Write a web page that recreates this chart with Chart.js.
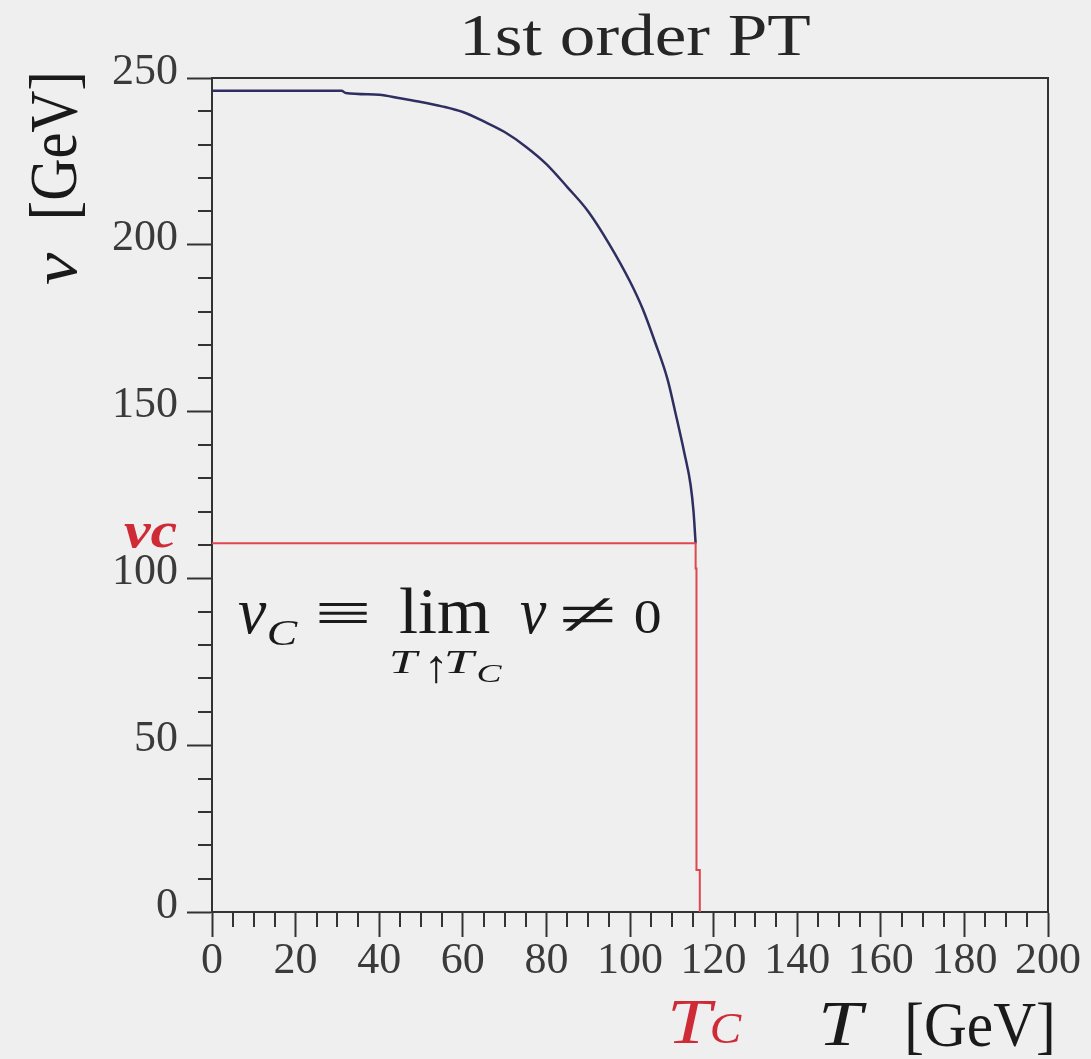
<!DOCTYPE html>
<html>
<head>
<meta charset="utf-8">
<script src="https://cdn.jsdelivr.net/npm/chart.js@4/dist/chart.umd.min.js"></script>
<style>
html,body{margin:0;padding:0;background:#efefef;}
#wrap{width:1091px;height:1059px;position:relative;}
</style>
</head>
<body>
<div id="wrap"><canvas id="c"></canvas></div>
<script>
// ---- data ----
const curveT = [0, 10, 20, 31, 32, 40, 45, 50, 55, 60, 65, 70, 75, 80, 85, 90, 95, 100, 103, 106, 109, 111, 113, 114.5, 115.2, 115.7];
const curveV = [246.2, 246.2, 246.2, 246.2, 245.5, 245.0, 243.9, 242.8, 241.5, 239.8, 237.0, 233.8, 229.5, 224.2, 217.3, 210.0, 200.3, 189.0, 180.9, 170.8, 159.6, 148.9, 137.6, 128.0, 120.0, 110.5];
const critT = [0, 115.7, 115.7, 115.9, 115.9, 116.7, 116.7];
const critV = [110.5, 110.5, 103, 103, 12.6, 12.6, 0];
const xMajorTicks = [0, 20, 40, 60, 80, 100, 120, 140, 160, 180, 200];
const yMajorTicks = [0, 50, 100, 150, 200, 250];
const xMinorStep = 5;
const yMinorStep = 10;
const chartTitle = '1st order PT';

const SERIF = "'Liberation Serif', 'DejaVu Serif', serif";
const AXIS = '#333333';
const RED_TXT = '#cf2b37';

function fitText(ctx, str, x0, x1, base, font, color) {
  ctx.save();
  ctx.font = font;
  ctx.fillStyle = color;
  ctx.textAlign = 'left';
  ctx.textBaseline = 'alphabetic';
  const m = ctx.measureText(str);
  const w = m.actualBoundingBoxRight + m.actualBoundingBoxLeft;
  const sx = (x1 - x0) / w;
  ctx.translate(x0 + m.actualBoundingBoxLeft * sx, base);
  ctx.scale(sx, 1);
  ctx.fillText(str, 0, 0);
  ctx.restore();
}

const decor = {
  id: 'decor',
  afterDraw(chart) {
    const ctx = chart.ctx;
    const {left, right, top, bottom} = chart.chartArea;
    const xs = chart.scales.x, ys = chart.scales.y;
    ctx.save();
    // frame (top and right)
    ctx.strokeStyle = AXIS;
    ctx.lineWidth = 2;
    ctx.beginPath();
    ctx.moveTo(left, top); ctx.lineTo(right, top); ctx.lineTo(right, bottom);
    ctx.stroke();
    // minor ticks
    xs.ticks.forEach(t => {
      if (xMajorTicks.includes(t.value)) return;
      const px = Math.round(xs.getPixelForValue(t.value));
      ctx.beginPath(); ctx.moveTo(px, bottom); ctx.lineTo(px, bottom + 15); ctx.stroke();
    });
    ys.ticks.forEach(t => {
      if (yMajorTicks.includes(t.value)) return;
      const py = Math.round(ys.getPixelForValue(t.value));
      ctx.beginPath(); ctx.moveTo(left - 14, py); ctx.lineTo(left, py); ctx.stroke();
    });
    ctx.restore();

    // title
    fitText(ctx, chartTitle, 465, 810, 55, `60px ${SERIF}`, '#262626');

    // y axis title (rotated)
    ctx.save();
    ctx.translate(76, 285);
    ctx.rotate(-Math.PI / 2);
    fitText(ctx, 'v', 0, 33, 0, `italic 64px ${SERIF}`, '#1a1a1a');
    fitText(ctx, '[GeV]', 69, 210, 0, `68px ${SERIF}`, '#1a1a1a');
    ctx.restore();

    // x axis title
    fitText(ctx, 'T', 823, 867, 1045, `italic 63px ${SERIF}`, '#1a1a1a');
    fitText(ctx, '[GeV]', 908, 1052, 1046, `63px ${SERIF}`, '#1a1a1a');
    // Tc (red)
    fitText(ctx, 'T', 672, 716, 1043, `italic 63px ${SERIF}`, RED_TXT);
    fitText(ctx, 'C', 712, 742, 1043, `italic 44px ${SERIF}`, RED_TXT);
    // vc (red)
    fitText(ctx, 'vc', 124, 177, 547, `bold italic 50px ${SERIF}`, RED_TXT);

    // formula  v_C ≡ lim v ≠ 0
    const F = '#1a1a1a';
    fitText(ctx, 'v', 238, 267, 633, `italic 66px ${SERIF}`, F);
    fitText(ctx, 'C', 268, 298, 645, `italic 35px ${SERIF}`, F);
    fitText(ctx, '\u2261', 318, 367, 633, `60px ${SERIF}`, F);
    fitText(ctx, 'lim', 400, 490, 633, `66px ${SERIF}`, F);
    fitText(ctx, 'T', 392, 420, 673, `italic 34px ${SERIF}`, F);
    fitText(ctx, '\u2191', 430, 443, 682, `46px ${SERIF}`, F);
    fitText(ctx, 'T', 447, 477, 673, `italic 34px ${SERIF}`, F);
    fitText(ctx, 'C', 478, 502, 682, `italic 25px ${SERIF}`, F);
    fitText(ctx, 'v', 520, 547, 633, `italic 66px ${SERIF}`, F);
    fitText(ctx, '\u2260', 562, 613, 635, `62px ${SERIF}`, F);
    fitText(ctx, '0', 635, 660, 633, `49px ${SERIF}`, F);
  }
};

const toPts = (xs, ys) => xs.map((x, i) => ({x, y: ys[i]}));

new Chart(document.getElementById('c'), {
  type: 'scatter',
  data: {
    datasets: [
      {
        label: 'critical',
        data: toPts(critT, critV),
        showLine: true,
        borderColor: '#e0464e',
        borderWidth: 2,
        pointRadius: 0,
        tension: 0
      },
      {
        label: 'v(T)',
        data: toPts(curveT, curveV),
        showLine: true,
        borderColor: '#2e2e60',
        borderWidth: 2.5,
        pointRadius: 0,
        cubicInterpolationMode: 'monotone'
      }
    ]
  },
  options: {
    responsive: true,
    maintainAspectRatio: false,
    animation: false,
    layout: {padding: {left: 0, top: 78, right: 43, bottom: 0}},
    plugins: {legend: {display: false}, tooltip: {enabled: false}, title: {display: false}},
    scales: {
      x: {
        type: 'linear',
        position: 'bottom',
        min: 0, max: 200,
        afterFit: s => { s.height = 147; },
        border: {display: true, color: AXIS, width: 2},
        grid: {
          display: true, drawOnChartArea: false, drawTicks: true, tickLength: 25, tickWidth: 2,
          tickColor: c => (c.tick && xMajorTicks.includes(c.tick.value)) ? AXIS : 'rgba(0,0,0,0)'
        },
        ticks: {
          stepSize: xMinorStep, autoSkip: false, maxRotation: 0, padding: 2,
          color: '#3a3a3a', font: {family: SERIF, size: 44, lineHeight: 1},
          callback: v => xMajorTicks.includes(v) ? String(v) : ''
        }
      },
      y: {
        type: 'linear',
        position: 'left',
        min: 0, max: 250,
        afterFit: s => { s.width = 212; },
        border: {display: true, color: AXIS, width: 2},
        grid: {
          display: true, drawOnChartArea: false, drawTicks: true, tickLength: 25, tickWidth: 2,
          tickColor: c => (c.tick && yMajorTicks.includes(c.tick.value)) ? AXIS : 'rgba(0,0,0,0)'
        },
        ticks: {
          stepSize: yMinorStep, autoSkip: false, padding: 9, labelOffset: -6,
          color: '#3a3a3a', font: {family: SERIF, size: 44, lineHeight: 1},
          callback: v => yMajorTicks.includes(v) ? String(v) : ''
        }
      }
    }
  },
  plugins: [decor]
});
</script>
</body>
</html>
